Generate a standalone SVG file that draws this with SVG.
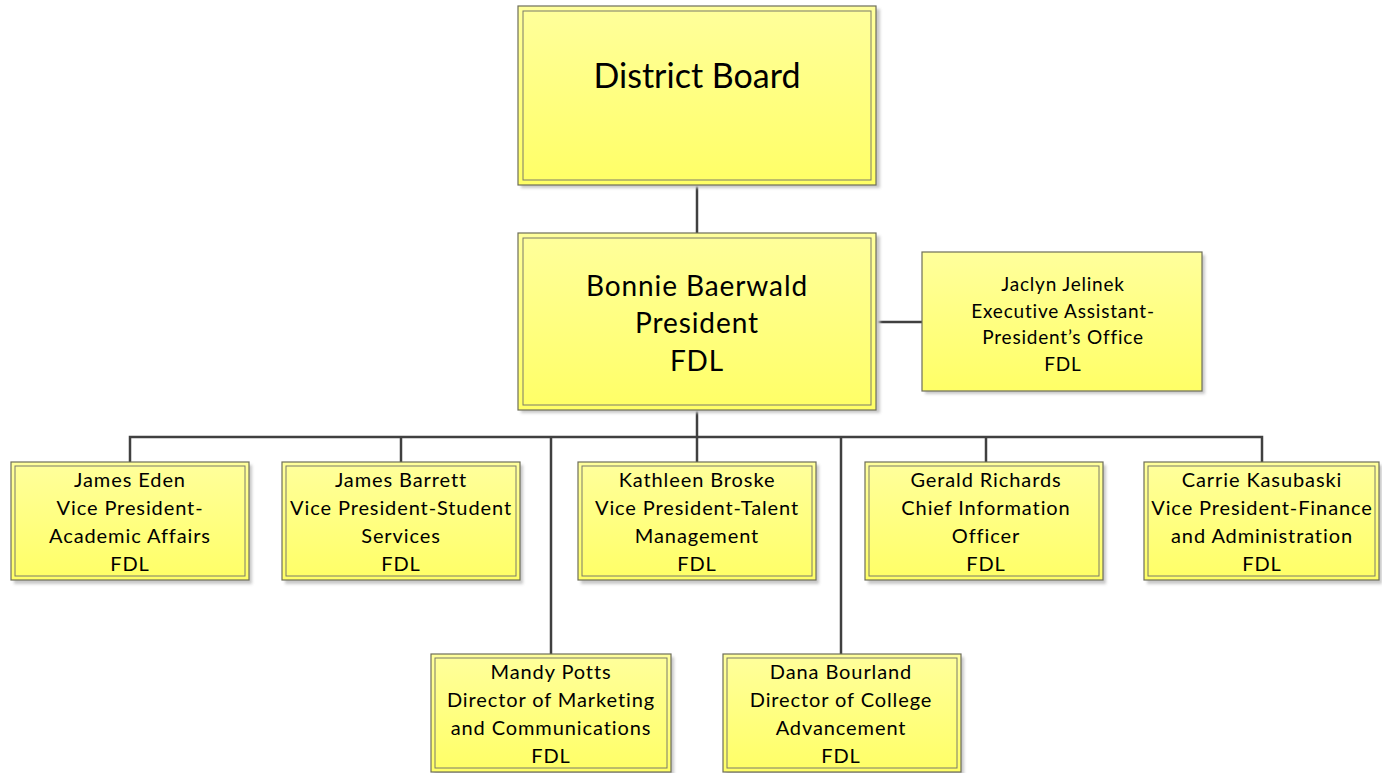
<svg xmlns="http://www.w3.org/2000/svg" width="1382" height="773" viewBox="0 0 1382 773">
<defs>
<linearGradient id="g" x1="0" y1="0" x2="0" y2="1">
<stop offset="0" stop-color="#ffff9c"/>
<stop offset="1" stop-color="#ffff66"/>
</linearGradient>
<filter id="sh" x="-5%" y="-5%" width="115%" height="115%">
<feGaussianBlur stdDeviation="1.5"/>
</filter>
</defs>
<style>
.shadow{fill:#c8c8c8;filter:url(#sh)}
.box{fill:url(#g);stroke:#6e6e5a;stroke-width:1.2}
.inner{fill:none;stroke:#7a7a6a;stroke-width:1}
.conn{fill:none;stroke:#404040;stroke-width:2.5}
text{font-family:Lato,"Liberation Sans",sans-serif;fill:#000;text-anchor:middle;dominant-baseline:central}
.t20{font-size:20px;letter-spacing:0.9px}
.t18{font-size:19px;letter-spacing:0.8px}
.t28{font-size:28px;letter-spacing:0.9px}
.t34{font-size:34px}
</style>
<rect width="1382" height="773" fill="#ffffff"/>
<g id="connectors">
<line class="conn" x1="697" y1="185" x2="697" y2="233"/>
<line class="conn" x1="877" y1="322" x2="922" y2="322"/>
<line class="conn" x1="697" y1="410" x2="697" y2="437"/>
<polyline class="conn" points="130,462 130,437 1262,437 1262,462"/>
<line class="conn" x1="401" y1="437" x2="401" y2="462"/>
<line class="conn" x1="551" y1="437" x2="551" y2="654"/>
<line class="conn" x1="697" y1="437" x2="697" y2="462"/>
<line class="conn" x1="841" y1="437" x2="841" y2="654"/>
<line class="conn" x1="986" y1="437" x2="986" y2="462"/>
</g>
<g id="district-board">
<rect class="shadow" x="521" y="9" width="359" height="179"/>
<rect class="box" x="518" y="6" width="358" height="179"/>
<rect class="inner" x="523" y="11" width="348" height="169"/>
<text class="t34" x="697" y="74">District Board</text>
</g>
<g id="president">
<rect class="shadow" x="521" y="236" width="359" height="177"/>
<rect class="box" x="518" y="233" width="358" height="177"/>
<rect class="inner" x="523" y="238" width="348" height="167"/>
<text class="t28" x="697" y="285">Bonnie Baerwald</text>
<text class="t28" x="697" y="322">President</text>
<text class="t28" x="697" y="360">FDL</text>
</g>
<g id="exec-assistant">
<rect class="shadow" x="925" y="255" width="280" height="139"/>
<rect class="box" x="922" y="252" width="280" height="139"/>
<text class="t18" x="1063" y="283">Jaclyn Jelinek</text>
<text class="t18" x="1063" y="310">Executive Assistant-</text>
<text class="t18" x="1063" y="336">President’s Office</text>
<text class="t18" x="1063" y="363">FDL</text>
</g>
<g id="james-eden">
<rect class="shadow" x="14" y="465" width="238" height="119"/>
<rect class="box" x="11" y="462" width="238" height="118"/>
<rect class="inner" x="15" y="466" width="230" height="110"/>
<text class="t20" x="130" y="479">James Eden</text>
<text class="t20" x="130" y="507">Vice President-</text>
<text class="t20" x="130" y="535">Academic Affairs</text>
<text class="t20" x="130" y="563">FDL</text>
</g>
<g id="james-barrett">
<rect class="shadow" x="285" y="465" width="238" height="119"/>
<rect class="box" x="282" y="462" width="238" height="118"/>
<rect class="inner" x="286" y="466" width="230" height="110"/>
<text class="t20" x="401" y="479">James Barrett</text>
<text class="t20" x="401" y="507">Vice President-Student</text>
<text class="t20" x="401" y="535">Services</text>
<text class="t20" x="401" y="563">FDL</text>
</g>
<g id="kathleen-broske">
<rect class="shadow" x="581" y="465" width="238" height="119"/>
<rect class="box" x="578" y="462" width="238" height="118"/>
<rect class="inner" x="582" y="466" width="230" height="110"/>
<text class="t20" x="697" y="479">Kathleen Broske</text>
<text class="t20" x="697" y="507">Vice President-Talent</text>
<text class="t20" x="697" y="535">Management</text>
<text class="t20" x="697" y="563">FDL</text>
</g>
<g id="gerald-richards">
<rect class="shadow" x="868" y="465" width="238" height="119"/>
<rect class="box" x="865" y="462" width="238" height="118"/>
<rect class="inner" x="869" y="466" width="230" height="110"/>
<text class="t20" x="986" y="479">Gerald Richards</text>
<text class="t20" x="986" y="507">Chief Information</text>
<text class="t20" x="986" y="535">Officer</text>
<text class="t20" x="986" y="563">FDL</text>
</g>
<g id="carrie-kasubaski">
<rect class="shadow" x="1147" y="465" width="235" height="119"/>
<rect class="box" x="1144" y="462" width="235" height="118"/>
<rect class="inner" x="1148" y="466" width="227" height="110"/>
<text class="t20" x="1262" y="479">Carrie Kasubaski</text>
<text class="t20" x="1262" y="507">Vice President-Finance</text>
<text class="t20" x="1262" y="535">and Administration</text>
<text class="t20" x="1262" y="563">FDL</text>
</g>
<g id="mandy-potts">
<rect class="shadow" x="434" y="657" width="240" height="119"/>
<rect class="box" x="431" y="654" width="240" height="118"/>
<rect class="inner" x="435" y="658" width="232" height="110"/>
<text class="t20" x="551" y="671">Mandy Potts</text>
<text class="t20" x="551" y="699">Director of Marketing</text>
<text class="t20" x="551" y="727">and Communications</text>
<text class="t20" x="551" y="755">FDL</text>
</g>
<g id="dana-bourland">
<rect class="shadow" x="726" y="657" width="238" height="119"/>
<rect class="box" x="723" y="654" width="238" height="118"/>
<rect class="inner" x="727" y="658" width="230" height="110"/>
<text class="t20" x="841" y="671">Dana Bourland</text>
<text class="t20" x="841" y="699">Director of College</text>
<text class="t20" x="841" y="727">Advancement</text>
<text class="t20" x="841" y="755">FDL</text>
</g>
</svg>
